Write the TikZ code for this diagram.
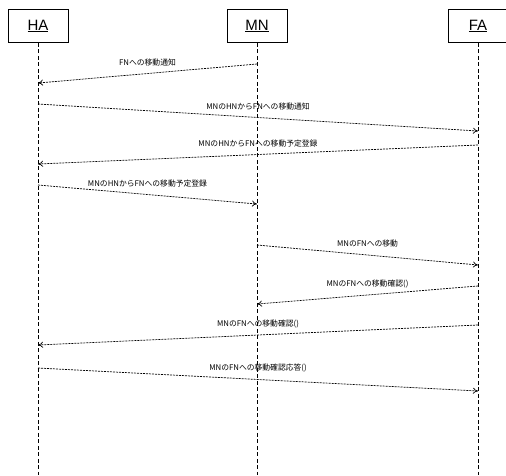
\documentclass[tikz,border=0pt]{standalone}
\usepackage{fontspec}
\setmainfont{Liberation Sans}
\newfontfamily\jpfont{Noto Sans CJK JP}
\usetikzlibrary{arrows.meta}
\begin{document}
\begin{tikzpicture}[x=1pt,y=-1pt,
  actor/.style={draw, line width=0.6pt, minimum width=60pt, minimum height=33pt, inner sep=0pt, font=\fontsize{15}{15}\selectfont},
  lifeline/.style={line width=0.9pt, dash pattern=on 4pt off 2.5pt},
  msg/.style={line width=0.7pt, dash pattern=on 2pt off 1pt, -{To[length=5pt,width=6pt]}},
  lbl/.style={font=\jpfont\fontsize{7.8}{8}\selectfont, inner sep=1pt, above=6pt}]
\useasboundingbox (0,0) rectangle (506,475);
\node[actor] (HA) at (38,26) {\underline{HA}};
\node[actor] (MN) at (257,26) {\underline{MN}};
\node[actor] (FA) at (478,26) {\underline{FA}};
\coordinate (HAe) at (38,475);
\coordinate (MNe) at (257,475);
\coordinate (FAe) at (478,475);
\draw[lifeline] (HA.south) -- (HAe);
\draw[lifeline] (MN.south) -- (MNe);
\draw[lifeline] (FA.south) -- (FAe);
% message end points
\coordinate (m1s) at (257,64);  \coordinate (m1e) at (38,83);
\coordinate (m2s) at (38,104);  \coordinate (m2e) at (478,131);
\coordinate (m3s) at (478,145); \coordinate (m3e) at (38,164);
\coordinate (m4s) at (38,185);  \coordinate (m4e) at (257,204);
\coordinate (m5s) at (257,245); \coordinate (m5e) at (478,265);
\coordinate (m6s) at (478,286); \coordinate (m6e) at (257,304);
\coordinate (m7s) at (478,325); \coordinate (m7e) at (38,345);
\coordinate (m8s) at (38,368);  \coordinate (m8e) at (478,391);
\draw[msg] (m1s) -- node[lbl] (l1) {FNへの移動通知} (m1e);
\draw[msg] (m2s) -- node[lbl] (l2) {MNのHNからFNへの移動通知} (m2e);
\draw[msg] (m3s) -- node[lbl] (l3) {MNのHNからFNへの移動予定登録} (m3e);
\draw[msg] (m4s) -- node[lbl] (l4) {MNのHNからFNへの移動予定登録} (m4e);
\draw[msg] (m5s) -- node[lbl] (l5) {MNのFNへの移動} (m5e);
\draw[msg] (m6s) -- node[lbl] (l6) {MNのFNへの移動確認()} (m6e);
\draw[msg] (m7s) -- node[lbl] (l7) {MNのFNへの移動確認()} (m7e);
\draw[msg] (m8s) -- node[lbl] (l8) {MNのFNへの移動確認応答()} (m8e);
\end{tikzpicture}
\end{document}
